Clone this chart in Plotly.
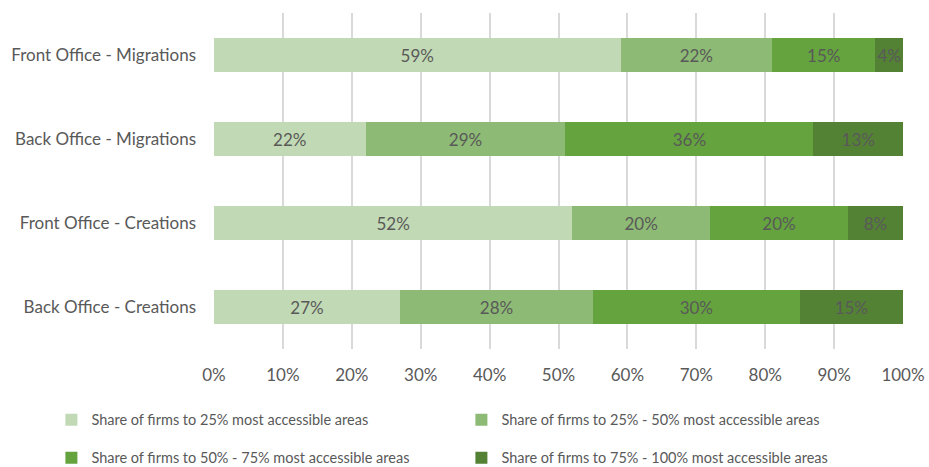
import plotly.graph_objects as go

categories = ["Front Office - Migrations", "Back Office - Migrations",
              "Front Office - Creations", "Back Office - Creations"]
series_names = ["Share of firms to 25% most accessible areas",
                "Share of firms to 25% - 50% most accessible areas",
                "Share of firms to 50% - 75% most accessible areas",
                "Share of firms to 75% - 100% most accessible areas"]
q1 = [59, 22, 52, 27]
q2 = [22, 29, 20, 28]
q3 = [15, 36, 20, 30]
q4 = [4, 13, 8, 15]
colors = ["#C1D9B4", "#8DBA74", "#64A33E", "#548235"]
tick_vals = [0, 10, 20, 30, 40, 50, 60, 70, 80, 90, 100]
tick_text = [f"{v}%" for v in tick_vals]

FONT = "Lato"
TXT = "#595959"

fig = go.Figure()
for i, (name, vals) in enumerate(zip(series_names, [q1, q2, q3, q4])):
    fig.add_trace(go.Bar(
        y=categories, x=vals, name=name, orientation="h",
        marker=dict(color=colors[i], line=dict(width=0)),
        text=[f"{v}%" for v in vals], textposition="inside",
        insidetextanchor="middle", textangle=0,
        textfont=dict(family=FONT, size=17, color=TXT),
        legend="legend" if i < 2 else "legend2",
        hoverinfo="skip",
    ))

legend_common = dict(orientation="h", xanchor="left", yanchor="middle",
                     x=-0.236, entrywidth=365, entrywidthmode="pixels",
                     font=dict(family=FONT, size=14.5, color=TXT),
                     bgcolor="rgba(0,0,0,0)", traceorder="normal")

fig.update_layout(
    width=929, height=467,
    margin=dict(l=214, r=26, t=13, b=118, autoexpand=False),
    barmode="stack", bargap=0.607,
    plot_bgcolor="white", paper_bgcolor="white",
    font=dict(family=FONT, size=17, color=TXT),
    uniformtext=dict(mode="show", minsize=17),
    xaxis=dict(range=[0, 100], tickvals=tick_vals, ticktext=tick_text,
               showgrid=True, gridcolor="#D9D9D9", gridwidth=2,
               zeroline=False, showline=False, ticks="", automargin=False,
               ticklabelstandoff=14,
               tickfont=dict(family=FONT, size=17, color=TXT)),
    yaxis=dict(autorange="reversed", showgrid=False, zeroline=False,
               showline=False, ticks="", ticklabelstandoff=17, automargin=False,
               tickfont=dict(family=FONT, size=17, color=TXT)),
    legend=dict(y=-0.211, **legend_common),
    legend2=dict(y=-0.324, **legend_common),
    showlegend=True,
)

fig.write_html("out.html", config={"displayModeBar": False},
               post_script="document.body.style.margin='0';document.body.style.overflow='hidden';")
